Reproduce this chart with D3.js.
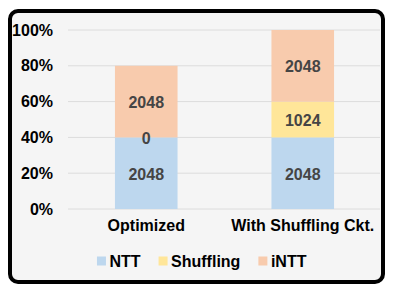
<!DOCTYPE html>
<html><head><meta charset="utf-8">
<script src="https://cdn.jsdelivr.net/npm/d3@7/dist/d3.min.js"></script>
<style>body{margin:0;background:#fff}svg{display:block}text{font-family:"Liberation Sans",Arial,Helvetica,sans-serif}</style>
</head><body>
<svg id="c" width="394" height="294"></svg>
<script>
const categories = ["Optimized", "With Shuffling Ckt."];
const seriesNames = ["NTT", "Shuffling", "iNTT"];
const NTT = [2048, 2048];
const Shuffling = [0, 1024];
const iNTT = [2048, 2048];
const yTicks = [0, 20, 40, 60, 80, 100];
const total = 5120;
const colors = ["#bdd7ee", "#ffe699", "#f8cbad"];

const svg = d3.select("#c");
svg.append("rect").attr("x", 10).attr("y", 11).attr("width", 373).attr("height", 271)
  .attr("rx", 8).attr("fill", "#f5f5f5").attr("stroke", "#000").attr("stroke-width", 4);

const x = d3.scaleBand().domain(categories).range([68, 381]).paddingInner(0.6).paddingOuter(0.3);
const y = d3.scaleLinear().domain([0, 100]).range([209, 30]);

// grid
svg.append("g").selectAll("line").data(yTicks).join("line")
  .attr("x1", 68).attr("x2", 380).attr("y1", d => y(d)).attr("y2", d => y(d))
  .attr("stroke", "#dcdcdc").attr("stroke-width", 1);

// y axis labels
const yAxis = d3.axisLeft(y).tickValues(yTicks).tickFormat(d => d + "%").tickSize(0).tickPadding(0);
const ga = svg.append("g").attr("transform", "translate(53,0)").call(yAxis);
ga.select(".domain").remove();
ga.selectAll("text").attr("font-size", 16).attr("font-weight", "bold").attr("fill", "#000")
  .attr("font-family", '"Liberation Sans",Arial,sans-serif');

// data table
const series = [NTT, Shuffling, iNTT];
const rows = categories.map((c, i) => {
  const o = {cat: c};
  seriesNames.forEach((s, j) => o[s] = series[j][i] / total * 100);
  return o;
});
const stack = d3.stack().keys(seriesNames)(rows);
stack.forEach((layer, j) => {
  const g = svg.append("g");
  g.selectAll("rect").data(layer).join("rect")
    .attr("x", d => x(d.data.cat)).attr("width", x.bandwidth())
    .attr("y", d => y(d[1])).attr("height", d => y(d[0]) - y(d[1]))
    .attr("fill", colors[j]);
});
stack.forEach((layer, j) => {
  svg.append("g").selectAll("text").data(layer).join("text")
    .attr("x", d => x(d.data.cat) + x.bandwidth() / 2)
    .attr("y", d => (y(d[0]) + y(d[1])) / 2 + 1)
    .attr("dy", "0.35em").attr("text-anchor", "middle")
    .attr("font-size", 16).attr("font-weight", "bold").attr("fill", "#454545")
    .text((d, i) => series[j][i]);
});

// x axis labels
const xAxis = d3.axisBottom(x).tickSize(0).tickPadding(0);
const gx = svg.append("g").attr("transform", "translate(0,220)").call(xAxis);
gx.select(".domain").remove();
gx.selectAll("text").attr("font-size", 16).attr("font-weight", "bold").attr("fill", "#000")
  .attr("font-family", '"Liberation Sans",Arial,sans-serif');

// legend
const lg = svg.append("g");
let cx = 0;
const items = seriesNames.map((s, j) => {
  const g = lg.append("g");
  g.append("rect").attr("x", 0).attr("y", -4.5).attr("width", 9).attr("height", 9).attr("fill", colors[j]);
  const t = g.append("text").attr("x", 12.5).attr("y", 0).attr("dy", "0.35em")
    .attr("font-size", 16).attr("font-weight", "bold").attr("fill", "#000").text(s);
  const w = 12.5 + t.node().getComputedTextLength();
  g.attr("transform", `translate(${cx},261)`);
  cx += w + 18;
  return w;
});
const totalW = cx - 18;
lg.attr("transform", `translate(${201.7 - totalW / 2},0)`);
</script>
</body></html>
